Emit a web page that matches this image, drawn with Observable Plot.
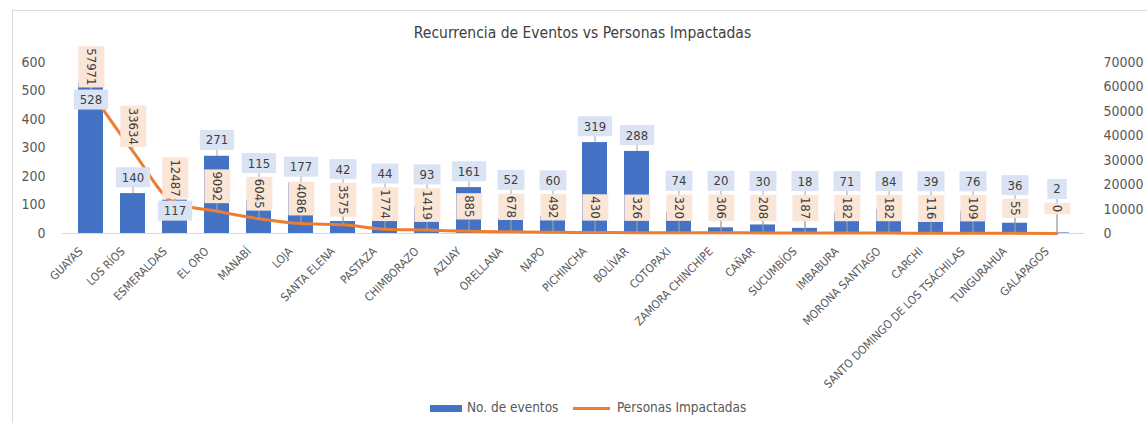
<!DOCTYPE html>
<html>
<head>
<meta charset="utf-8">
<script src="https://cdn.jsdelivr.net/npm/d3@7"></script>
<script src="https://cdn.jsdelivr.net/npm/@observablehq/plot@0.6"></script>
<style>
  html, body { margin: 0; padding: 0; background: #fff; }
  #wrap { position: relative; width: 1147px; height: 423px; overflow: hidden; background: #fff;
          font-family: 'Liberation Sans Narrow', 'DejaVu Sans Condensed', sans-serif; color: #595959; }
  #frame { position: absolute; left: 12px; top: 10px; width: 1200px; height: 500px; border: 1px solid #d9d9d9; box-sizing: border-box; }
  #title { position: absolute; left: 0; top: 23px; width: 1165px; text-align: center; font-size: 15.5px; line-height: 20px; color: #404040; }
  #chart { position: absolute; left: 0; top: 0; }
  .leg { position: absolute; top: 399px; font-size: 13.5px; line-height: 16px; color: #595959; white-space: nowrap; }
</style>
</head>
<body>
<div id="wrap">
  <div id="frame"></div>
  <div id="chart"></div>
  <div id="title">Recurrencia de Eventos vs Personas Impactadas</div>
  <div class="leg" style="left:430px;"><span style="display:inline-block;width:32px;height:7px;background:#4472C4;vertical-align:middle;margin-right:5px;"></span>No. de eventos</div>
  <div class="leg" style="left:573px;"><span style="display:inline-block;width:37px;height:3px;background:#ED7D31;vertical-align:middle;margin-right:7px;"></span>Personas Impactadas</div>
</div>
<script>
const provincias = ["GUAYAS","LOS RÍOS","ESMERALDAS","EL ORO","MANABÍ","LOJA","SANTA ELENA","PASTAZA","CHIMBORAZO","AZUAY","ORELLANA","NAPO","PICHINCHA","BOLÍVAR","COTOPAXI","ZAMORA CHINCHIPE","CAÑAR","SUCUMBÍOS","IMBABURA","MORONA SANTIAGO","CARCHI","SANTO DOMINGO DE LOS TSÁCHILAS","TUNGURAHUA","GALÁPAGOS"];
const eventos = [528,140,117,271,115,177,42,44,93,161,52,60,319,288,74,20,30,18,71,84,39,76,36,2];
const personas = [57971,33634,12487,9092,6045,4086,3575,1774,1419,885,678,492,430,326,320,306,208,187,182,182,116,109,55,0];
const ticksEventos = [0,100,200,300,400,500,600];
const ticksPersonas = [0,10000,20000,30000,40000,50000,60000,70000];

const W = 1147, H = 390, mT = 62, mB = 157, mL = 62, mR = 63;
const maxE = 600, maxP = 70000, k = maxE / maxP;
const FONT = "'Liberation Sans Narrow', 'DejaVu Sans Condensed', sans-serif";
const LBL = 13;

// standalone copy of the y scale, used to lay out labels
const yS = Plot.scale({y: {domain: [0, maxE], range: [H - mB, mT]}});

const table = provincias.map((p, i) => {
  const e = eventos[i], h = personas[i];
  const barTop = yS.apply(e);
  const lineY = yS.apply(h * k);
  const peachC = lineY - 25;
  const n = String(h).length;
  const hp = (n * 7.4 + 6) / 2;
  let blueC = barTop - 16;
  const hb = 10.5;
  if (Math.abs(blueC - peachC) < hp + hb) {
    blueC = n >= 5 ? peachC + hp + hb + 1 : peachC - hp - hb - 2;
  }
  return {p, e, h, hk: h * k, by: yS.invert(blueC), py: yS.invert(peachC)};
});

const chart = Plot.plot({
  width: W, height: H,
  marginTop: mT, marginBottom: mB, marginLeft: mL, marginRight: mR,
  style: {fontFamily: FONT, fontSize: "14px", color: "#595959", background: "transparent", overflow: "visible"},
  x: {type: "band", domain: provincias, paddingInner: 0.41, paddingOuter: 0.205, label: null},
  y: {domain: [0, maxE], label: null},
  marks: [
    Plot.barY(table, {x: "p", y: "e", fill: "#4472C4"}),
    Plot.ruleY([0], {stroke: "#d9d9d9", strokeWidth: 1}),
    Plot.line(table, {x: "p", y: "hk", stroke: "#ED7D31", strokeWidth: 3, curve: "monotone-x"}),
    Plot.ruleX(table, {x: "p", y1: "e", y2: "by", stroke: "#a6a6a6", strokeWidth: 1}),
    Plot.ruleX(table, {x: "p", y1: "hk", y2: "py", stroke: "#a6a6a6", strokeWidth: 1}),
    Plot.text(table, {x: "p", y: "by", text: d => String(d.e), fill: "#404040", fontSize: LBL, ariaDescription: "lbl-eventos"}),
    Plot.text(table, {x: "p", y: "py", text: d => String(d.h), rotate: 90, fill: "#404040", fontSize: LBL, ariaDescription: "lbl-personas"}),
    Plot.axisY(ticksEventos, {anchor: "left", tickSize: 0, tickPadding: 17, label: null, fontSize: 14}),
    Plot.axisY(ticksPersonas.map(v => v * k), {anchor: "right", tickSize: 0, tickPadding: 19, label: null, fontSize: 14,
      tickFormat: d => String(Math.round(d / k))}),
    Plot.axisX({tickSize: 0, tickPadding: 8, tickRotate: -45, label: null, fontSize: 11.5, dx: -10, dy: 8})
  ]
});

document.getElementById("chart").appendChild(chart);

function boxify(svg, desc, idx, fill, padX, padY) {
  let g = svg.querySelector(`g[aria-description="${desc}"]`);
  if (!g) g = svg.querySelectorAll('g[aria-label="text"]')[idx];
  if (!g) return;
  for (const t of Array.from(g.querySelectorAll("text"))) {
    const b = t.getBBox();
    const r = document.createElementNS("http://www.w3.org/2000/svg", "rect");
    r.setAttribute("x", b.x - padX);
    r.setAttribute("y", b.y - padY);
    r.setAttribute("width", b.width + 2 * padX);
    r.setAttribute("height", b.height + 2 * padY);
    r.setAttribute("fill", fill);
    const tr = t.getAttribute("transform");
    if (tr) r.setAttribute("transform", tr);
    t.parentNode.insertBefore(r, t);
  }
}
boxify(chart, "lbl-eventos", 0, "#DAE3F3", 6, 2.5);
boxify(chart, "lbl-personas", 1, "#FBE5D6", 2, 5.5);
</script>
</body>
</html>
